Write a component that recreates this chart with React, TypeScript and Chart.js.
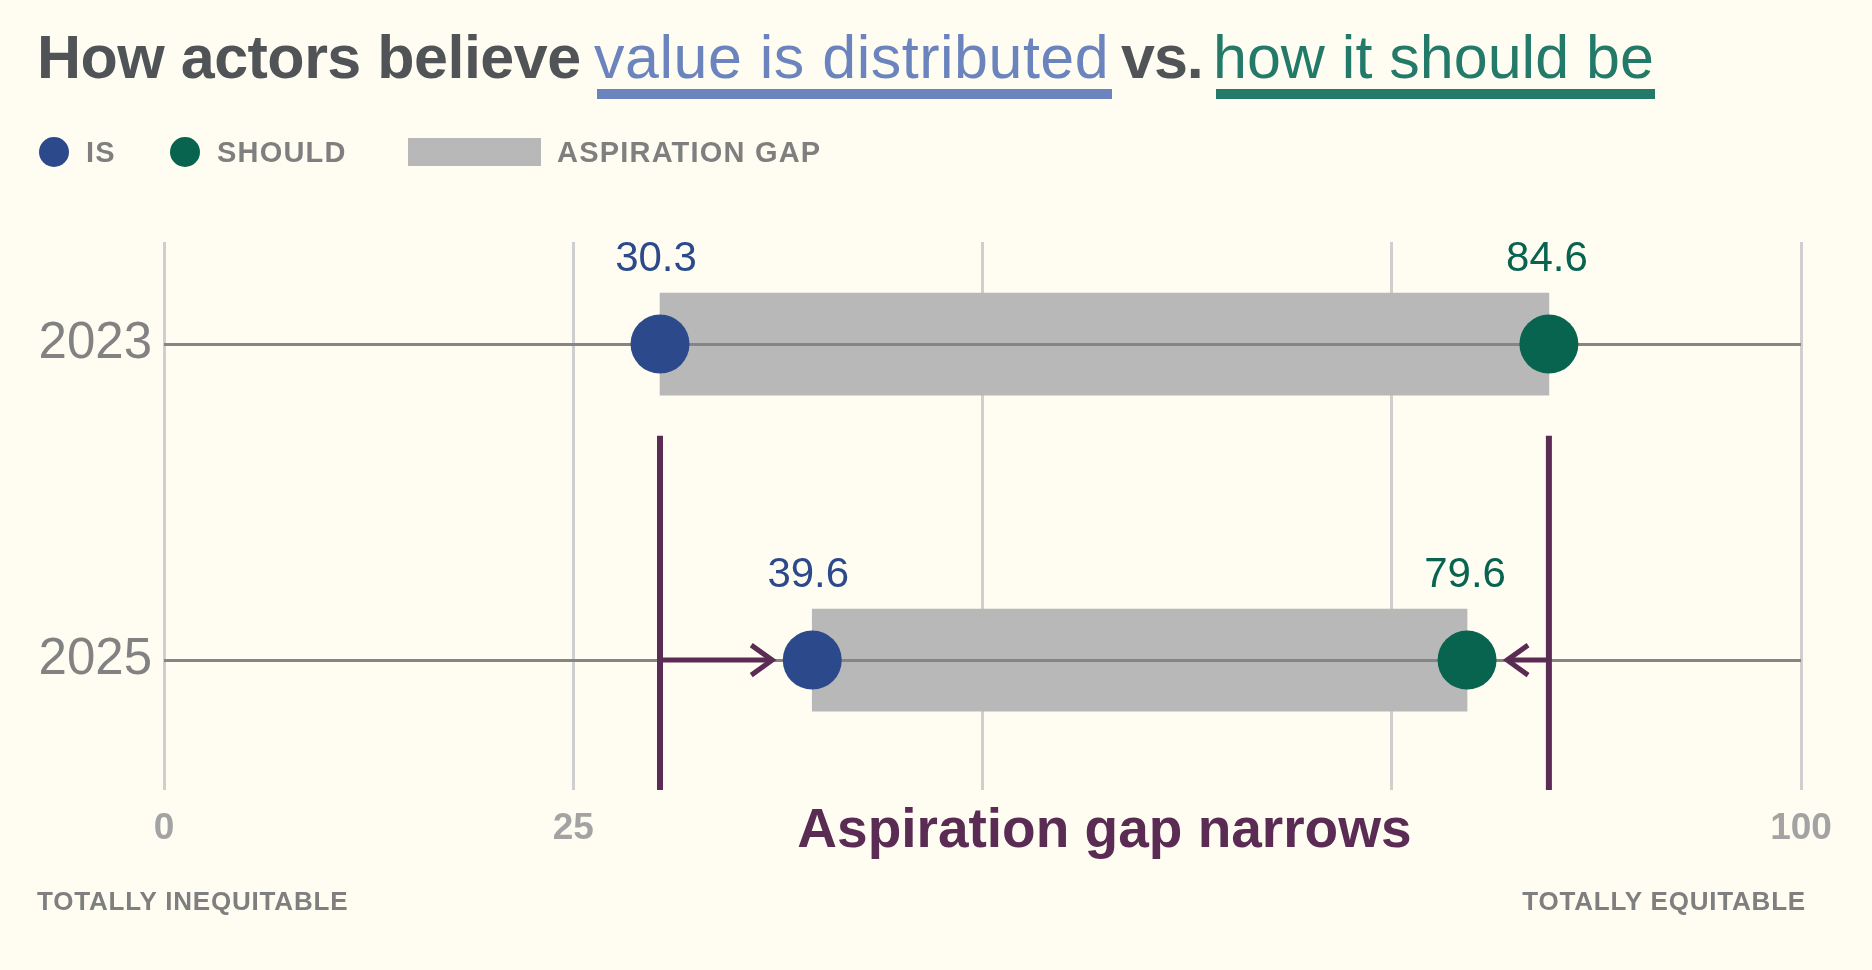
import React, { useEffect, useRef } from 'react';
import { Chart, registerables } from 'chart.js';

Chart.register(...registerables);

// ---------- data ----------
const years = ['2023', '2025'];
const isValues = [30.3, 39.6];
const shouldValues = [84.6, 79.6];
const xTickValues = [0, 25, 50, 75, 100];
const xTickLabels = ['0', '25', '', '', '100'];
const legendLabels = ['IS', 'SHOULD', 'ASPIRATION GAP'];
const titleParts = ['How actors believe', 'value is distributed', 'vs.', 'how it should be'];
const axisEndLabels = ['TOTALLY INEQUITABLE', 'TOTALLY EQUITABLE'];
const annotationText = 'Aspiration gap narrows';

// ---------- style ----------
const FONT = '"Liberation Sans", Arial, Helvetica, sans-serif';
const C = {
  bg: '#fffdf2',
  is: '#2c4a8b',
  should: '#08634f',
  gap: '#b8b8b8',
  row: '#858585',
  grid: '#cfcfcf',
  purple: '#5a2c54',
  titleGrey: '#505456',
  titleBlue: '#6b84bd',
  titleGreen: '#237a68',
  legendText: '#7f7f7f',
  tick: '#a3a3a3',
  yTick: '#828282',
};

const overlayPlugin = {
  id: 'overlay',
  afterDatasetDraw(chart: any, args: any) {
    if (args.index !== 0) return;
    const { ctx, chartArea, scales } = chart;
    const y = scales.y;
    ctx.save();
    ctx.strokeStyle = C.row;
    ctx.lineWidth = 3;
    years.forEach((_, i) => {
      const py = Math.round(y.getPixelForValue(i)) + 0.5;
      ctx.beginPath();
      ctx.moveTo(chartArea.left, py);
      ctx.lineTo(chartArea.right, py);
      ctx.stroke();
    });
    ctx.restore();
  },
  afterDatasetsDraw(chart: any) {
    const { ctx, chartArea, scales } = chart;
    const x = scales.x;
    const y = scales.y;
    ctx.save();
    // value labels
    ctx.font = `42px ${FONT}`;
    ctx.textAlign = 'center';
    ctx.textBaseline = 'alphabetic';
    years.forEach((_, i) => {
      const py = y.getPixelForValue(i);
      ctx.fillStyle = C.is;
      ctx.fillText(isValues[i].toFixed(1), x.getPixelForValue(isValues[i]) - 4, py - 73);
      ctx.fillStyle = C.should;
      ctx.fillText(shouldValues[i].toFixed(1), x.getPixelForValue(shouldValues[i]) - 2, py - 73);
    });

    // annotation: vertical purple lines at first-year values
    const xa = x.getPixelForValue(isValues[0]);
    const xb = x.getPixelForValue(shouldValues[0]);
    const top = y.getPixelForValue(0.29);
    ctx.strokeStyle = C.purple;
    ctx.lineWidth = 6;
    ctx.lineCap = 'butt';
    [xa, xb].forEach((px) => {
      ctx.beginPath();
      ctx.moveTo(px, top);
      ctx.lineTo(px, chartArea.bottom);
      ctx.stroke();
    });

    // arrows at last-year row
    const last = years.length - 1;
    const py = y.getPixelForValue(last);
    const tipL = x.getPixelForValue(isValues[last]) - 40;
    const tipR = x.getPixelForValue(shouldValues[last]) + 40;
    ctx.lineWidth = 5;
    ctx.lineJoin = 'miter';
    ctx.beginPath();
    ctx.moveTo(xa, py);
    ctx.lineTo(tipL - 2, py);
    ctx.stroke();
    ctx.beginPath();
    ctx.moveTo(tipL - 21, py - 15);
    ctx.lineTo(tipL, py);
    ctx.lineTo(tipL - 21, py + 15);
    ctx.stroke();
    ctx.beginPath();
    ctx.moveTo(xb, py);
    ctx.lineTo(tipR + 2, py);
    ctx.stroke();
    ctx.beginPath();
    ctx.moveTo(tipR + 21, py - 15);
    ctx.lineTo(tipR, py);
    ctx.lineTo(tipR + 21, py + 15);
    ctx.stroke();

    // annotation text
    ctx.fillStyle = C.purple;
    ctx.font = `bold 55px ${FONT}`;
    ctx.textAlign = 'center';
    ctx.textBaseline = 'alphabetic';
    ctx.fillText(annotationText, (xa + xb) / 2, chartArea.bottom + 57);
    ctx.restore();
  },
};

function ChartCanvas() {
  const ref = useRef<HTMLCanvasElement | null>(null);
  useEffect(() => {
    if (!ref.current) return;
    const chart = new Chart(ref.current, {
      type: 'bar',
      data: {
        datasets: [
          {
            type: 'bar',
            label: legendLabels[2],
            data: years.map((_, i) => ({ x: [isValues[i], shouldValues[i]], y: i })) as any,
            backgroundColor: C.gap,
            borderWidth: 0,
            barThickness: 102,
            order: 3,
          } as any,
          {
            type: 'line',
            label: legendLabels[0],
            data: years.map((_, i) => ({ x: isValues[i], y: i })),
            showLine: false,
            pointRadius: 29.5,
            pointHoverRadius: 29.5,
            pointBackgroundColor: C.is,
            pointBorderWidth: 0,
            order: 1,
          } as any,
          {
            type: 'line',
            label: legendLabels[1],
            data: years.map((_, i) => ({ x: shouldValues[i], y: i })),
            showLine: false,
            pointRadius: 29.5,
            pointHoverRadius: 29.5,
            pointBackgroundColor: C.should,
            pointBorderWidth: 0,
            order: 0,
          } as any,
        ],
      },
      options: {
        indexAxis: 'y',
        responsive: false,
        animation: false,
        events: [],
        layout: { padding: { top: 242, right: 71, bottom: 0, left: 0 } },
        plugins: { legend: { display: false }, tooltip: { enabled: false }, title: { display: false } },
        scales: {
          x: {
            type: 'linear',
            min: 0,
            max: 100,
            offset: false,
            afterBuildTicks: (s: any) => {
              s.ticks = xTickValues.map((v) => ({ value: v }));
            },
            afterFit: (s: any) => {
              s.height = 180;
            },
            ticks: {
              callback: (v: any) => xTickLabels[xTickValues.indexOf(Number(v))] ?? '',
              font: { family: FONT, size: 37, weight: 'bold' },
              color: C.tick,
              padding: 17,
              maxRotation: 0,
              autoSkip: false,
            },
            grid: { color: C.grid, lineWidth: 3, drawTicks: false },
            border: { display: false },
          },
          y: {
            type: 'linear',
            reverse: true,
            offset: false,
            min: -0.323,
            max: 1.411,
            afterBuildTicks: (s: any) => {
              s.ticks = years.map((_, i) => ({ value: i }));
            },
            afterFit: (s: any) => {
              s.width = 164;
            },
            ticks: {
              callback: (v: any) => years[Number(v)] ?? '',
              font: { family: FONT, size: 51 },
              color: C.yTick,
              padding: 4,
              autoSkip: false,
            },
            grid: { display: false, offset: false },
            border: { display: false },
          },
        },
      } as any,
      plugins: [overlayPlugin],
    });
    return () => chart.destroy();
  }, []);
  return <canvas ref={ref} width={1872} height={970} style={{ position: 'absolute', left: 0, top: 0 }} />;
}

const abs = (extra: React.CSSProperties): React.CSSProperties => ({
  position: 'absolute',
  whiteSpace: 'nowrap',
  fontFamily: FONT,
  margin: 0,
  ...extra,
});

export default function App() {
  useEffect(() => {
    document.body.style.margin = '0';
    document.body.style.background = C.bg;
  }, []);
  const titleBase = { top: 27, fontSize: 61, lineHeight: '61px' };
  const legendBase = { top: 138, fontSize: 29, lineHeight: '29px', fontWeight: 700, letterSpacing: '1.2px', color: C.legendText };
  const endBase = { top: 888, fontSize: 26, lineHeight: '26px', fontWeight: 700, letterSpacing: '0.8px', color: C.legendText };
  const dot = (cx: number, color: string): React.CSSProperties => ({
    position: 'absolute', left: cx - 15, top: 137, width: 30, height: 30, borderRadius: '50%', background: color,
  });
  return (
    <div style={{ position: 'absolute', left: 0, top: 0, width: 1872, height: 970, background: C.bg, overflow: 'hidden' }}>
      <ChartCanvas />
      {/* title */}
      <span style={abs({ ...titleBase, left: 37, fontWeight: 700, letterSpacing: '-0.5px', color: C.titleGrey })}>{titleParts[0]}</span>
      <span style={abs({ ...titleBase, left: 594, letterSpacing: '0.5px', color: C.titleBlue })}>{titleParts[1]}</span>
      <div style={{ position: 'absolute', left: 597, top: 89, width: 515, height: 10, background: C.titleBlue }} />
      <span style={abs({ ...titleBase, left: 1121, fontWeight: 700, letterSpacing: '-1px', color: C.titleGrey })}>{titleParts[2]}</span>
      <span style={abs({ ...titleBase, left: 1213, color: C.titleGreen })}>{titleParts[3]}</span>
      <div style={{ position: 'absolute', left: 1216, top: 89, width: 439, height: 10, background: C.titleGreen }} />
      {/* legend */}
      <div style={dot(54, C.is)} />
      <span style={abs({ ...legendBase, left: 86 })}>{legendLabels[0]}</span>
      <div style={dot(185, C.should)} />
      <span style={abs({ ...legendBase, left: 217 })}>{legendLabels[1]}</span>
      <div style={{ position: 'absolute', left: 408, top: 138, width: 133, height: 28, background: C.gap }} />
      <span style={abs({ ...legendBase, left: 557 })}>{legendLabels[2]}</span>
      {/* axis end labels */}
      <span style={abs({ ...endBase, left: 37 })}>{axisEndLabels[0]}</span>
      <span style={abs({ ...endBase, right: 66 })}>{axisEndLabels[1]}</span>
    </div>
  );
}
